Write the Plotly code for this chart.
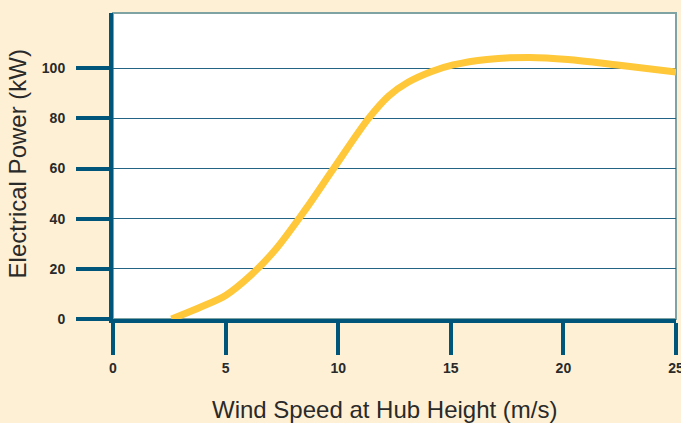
import plotly.graph_objects as go

# Data
wind_speed = [2.6, 3.9, 5.0, 6.1, 7.2, 8.55, 9.75, 11.35, 12.25, 13.1, 14.15, 15.1, 16.6, 18.5, 20.2, 22.4, 25.0]
power_kw = [0.0, 4.8, 9.4, 17.3, 27.5, 43.7, 59.4, 80.0, 89.0, 94.4, 98.7, 101.3, 103.5, 104.3, 103.5, 101.3, 98.5]

x_ticks = [0, 5, 10, 15, 20, 25]
y_ticks = [0, 20, 40, 60, 80, 100]

BG = "#FDF0D5"
AXIS = "#00557A"
GRID = "#236485"
TEXT = "#2A2A2A"
FONT = "Liberation Sans, Arial, sans-serif"

fig = go.Figure()
fig.add_trace(go.Scatter(
    x=wind_speed, y=power_kw, mode="lines",
    line=dict(color="#FFC83A", width=7, shape="spline", smoothing=0.9),
    hoverinfo="skip", showlegend=False, cliponaxis=True,
))

fig.update_layout(
    width=681, height=423,
    paper_bgcolor=BG, plot_bgcolor="white",
    margin=dict(l=113, r=5, t=13, b=104),
    font=dict(family=FONT, color=TEXT),
    shapes=[dict(type="rect", xref="paper", yref="paper", x0=0, x1=1, y0=0, y1=1,
                 line=dict(color="#7FA2A2", width=2), layer="below")],
    annotations=[
        dict(text="Wind Speed at Hub Height (m/s)", xref="paper", yref="paper",
             x=0.482, y=-0.297, xanchor="center", yanchor="middle", showarrow=False,
             font=dict(size=24, family=FONT, color=TEXT)),
        dict(text="Electrical Power (kW)", xref="paper", yref="paper",
             x=-0.169, y=0.508, xanchor="center", yanchor="middle", showarrow=False,
             textangle=-90, font=dict(size=24, family=FONT, color=TEXT)),
    ],
)

fig.update_xaxes(
    range=[0, 25], tickvals=x_ticks, ticktext=[str(v) for v in x_ticks],
    showgrid=False, zeroline=False, automargin=False,
    showline=True, linecolor=AXIS, linewidth=4,
    ticks="outside", ticklen=32, tickwidth=4, tickcolor=AXIS,
    ticklabelstandoff=1, ticklabeloverflow="allow",
    tickfont=dict(size=14, family=FONT, color=TEXT, weight="bold"),
    fixedrange=True,
)
fig.update_yaxes(
    range=[0, 122], tickvals=y_ticks, ticktext=[str(v) for v in y_ticks],
    showgrid=True, gridcolor=GRID, gridwidth=1.2, zeroline=False, automargin=False,
    showline=True, linecolor=AXIS, linewidth=4,
    ticks="outside", ticklen=33, tickwidth=4, tickcolor=AXIS,
    ticklabelstandoff=8,
    tickfont=dict(size=14, family=FONT, color=TEXT, weight="bold"),
    fixedrange=True,
)

fig.write_html(
    "out.html",
    config={"displayModeBar": False},
    post_script=(
        "document.body.style.margin='0';"
        "document.body.style.background='" + BG + "';"
    ),
)
